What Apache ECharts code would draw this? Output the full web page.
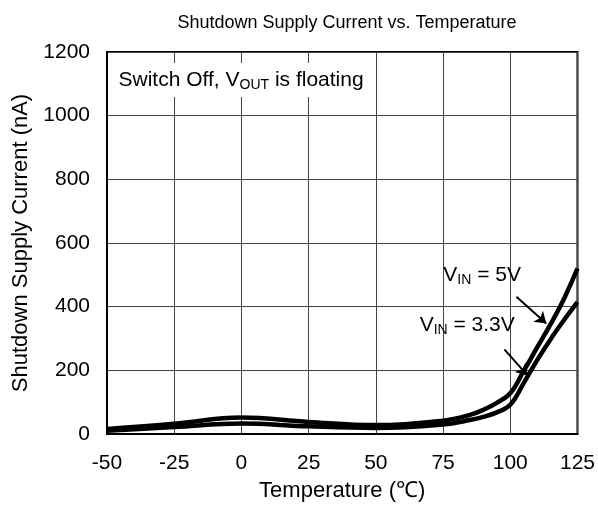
<!DOCTYPE html>
<html>
<head>
<meta charset="utf-8">
<script src="https://cdn.jsdelivr.net/npm/echarts@6/dist/echarts.min.js"></script>
<style>
  html, body { margin: 0; padding: 0; background: #fff; }
  #chart { width: 598px; height: 508px; }
</style>
</head>
<body>
<div id="chart"></div>
<script>
// temperature points (°C)
var temps = [-50, -25, 0, 25, 50, 75, 85, 90, 95, 100, 105, 110, 115, 120, 125];
// supply current (nA)
var vin5 = [16, 32, 52, 38, 28, 42, 60, 76, 98, 128, 198, 272, 345, 425, 520];
var vin33 = [10, 22, 33, 24, 19, 30, 44, 54, 68, 92, 160, 232, 298, 358, 414];

var FONT = 'Liberation Sans, Arial, sans-serif';

function pairs(xs, ys) {
  return xs.map(function (x, i) { return [x, ys[i]]; });
}

var richText = {
  a: { fontFamily: FONT, fontSize: 21, color: '#000', lineHeight: 24 },
  sub: { fontFamily: FONT, fontSize: 14, color: '#000', lineHeight: 24, verticalAlign: 'bottom', padding: [10, 0, 0, 0] }
};

// text placed at a data coordinate, left edge on the point
function note(coord, text, extra) {
  var label = {
    show: true,
    position: 'right',
    distance: 0,
    formatter: text,
    rich: richText
  };
  if (extra) {
    for (var k in extra) label[k] = extra[k];
  }
  return {
    coord: coord,
    symbol: 'circle',
    symbolSize: 1,
    itemStyle: { color: 'rgba(0,0,0,0)' },
    label: label
  };
}

var myChart = echarts.init(document.getElementById('chart'));

myChart.setOption({
  animation: false,
  backgroundColor: '#fff',
  title: {
    text: 'Shutdown Supply Current vs. Temperature',
    left: 342,
    textAlign: 'center',
    top: 9,
    textStyle: { fontFamily: FONT, fontSize: 18, fontWeight: 'normal', color: '#000' }
  },
  grid: {
    left: 107, right: 20, top: 52, bottom: 74,
    show: true, borderColor: '#000', borderWidth: 2
  },
  xAxis: {
    type: 'value',
    min: -50, max: 125, interval: 25,
    name: 'Temperature (℃)',
    nameLocation: 'middle',
    nameGap: 46,
    nameTextStyle: { fontFamily: FONT, fontSize: 22, color: '#000' },
    axisLine: { show: true, onZero: false, lineStyle: { color: '#000', width: 2 } },
    axisTick: { show: false },
    axisLabel: { fontFamily: FONT, fontSize: 21, color: '#000', margin: 19 },
    splitLine: { show: true, lineStyle: { color: '#444', width: 1 } }
  },
  yAxis: {
    type: 'value',
    min: 0, max: 1200, interval: 200,
    name: 'Shutdown Supply Current (nA)',
    nameLocation: 'middle',
    nameGap: 75,
    nameTextStyle: { fontFamily: FONT, fontSize: 22, color: '#000' },
    axisLine: { show: true, onZero: false, lineStyle: { color: '#000', width: 2 } },
    axisTick: { show: false },
    axisLabel: {
      fontFamily: FONT, fontSize: 21, color: '#000', margin: 17,
      formatter: function (v) { return String(v); }
    },
    splitLine: { show: true, lineStyle: { color: '#444', width: 1 } }
  },
  series: [
    {
      name: 'VIN = 5V',
      type: 'line',
      smooth: 0.4,
      symbol: 'none',
      data: pairs(temps, vin5),
      lineStyle: { color: '#000', width: 4.5 },
      z: 3,
      markPoint: {
        silent: true,
        data: [
          note([74.9, 500], '{a|V}{sub|IN}{a| = 5V}'),
          note([-45.9, 1112], '{a|Switch Off, V}{sub|OUT}{a| is floating}',
            { backgroundColor: '#fff', padding: [5, 8, 5, 0] })
        ]
      },
      markLine: {
        silent: true,
        symbol: ['none', 'arrow'],
        symbolSize: 11,
        label: { show: false },
        lineStyle: { color: '#000', width: 2, type: 'solid' },
        data: [[{ coord: [102.3, 431] }, { coord: [113.4, 347] }]]
      }
    },
    {
      name: 'VIN = 3.3V',
      type: 'line',
      smooth: 0.4,
      symbol: 'none',
      data: pairs(temps, vin33),
      lineStyle: { color: '#000', width: 4.5 },
      z: 3,
      markPoint: {
        silent: true,
        data: [note([66.1, 341], '{a|V}{sub|IN}{a| = 3.3V}')]
      },
      markLine: {
        silent: true,
        symbol: ['none', 'arrow'],
        symbolSize: 11,
        label: { show: false },
        lineStyle: { color: '#000', width: 2, type: 'solid' },
        data: [[{ coord: [97.8, 266] }, { coord: [106.4, 184] }]]
      }
    }
  ]
});

window.onresize = function () {
  myChart.resize();
};
</script>
</body>
</html>
